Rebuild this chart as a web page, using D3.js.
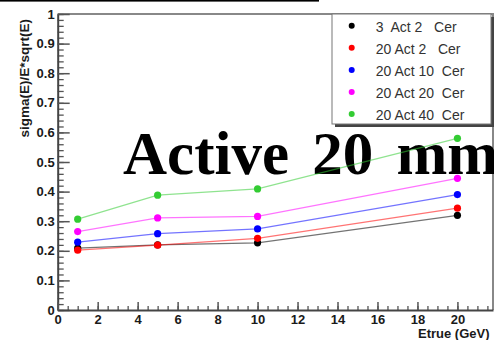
<!DOCTYPE html>
<html>
<head>
<meta charset="utf-8">
<script src="https://cdn.jsdelivr.net/npm/d3@7"></script>
<style>
  body { margin: 0; background: #fff; }
  svg { display: block; }
  .tick text { font-family: "Liberation Sans", Arial, sans-serif; font-weight: bold; font-size: 13px; fill: #1a1a1a; }
</style>
</head>
<body>
<div id="chart"></div>
<script>
// energies (GeV) on the x axis
var energies = [1, 5, 10, 20];

// sigma(E)/E*sqrt(E) for each configuration
var act3_cer2   = [0.209, 0.220, 0.227, 0.320];
var act20_cer2  = [0.202, 0.219, 0.242, 0.344];
var act20_cer10 = [0.229, 0.258, 0.274, 0.390];
var act20_cer20 = [0.265, 0.311, 0.316, 0.445];
var act20_cer40 = [0.307, 0.388, 0.409, 0.580];

var seriesNames = ['3  Act 2   Cer', '20 Act 2   Cer', '20 Act 10  Cer', '20 Act 20  Cer', '20 Act 40  Cer'];
var seriesColors = ['#000000', '#ff0000', '#0000ff', '#ff00ff', '#33cc33'];
var seriesValues = [act3_cer2, act20_cer2, act20_cer10, act20_cer20, act20_cer40];

var xTicks = [0, 2, 4, 6, 8, 10, 12, 14, 16, 18, 20];
var yTicks = [0, 0.1, 0.2, 0.3, 0.4, 0.5, 0.6, 0.7, 0.8, 0.9, 1];

var W = 494, H = 340;
var padL = 57.7, padR = 493, padT = 14, padB = 310;

var svg = d3.select('#chart').append('svg')
    .attr('width', W).attr('height', H);

var x = d3.scaleLinear().domain([0, 21.78]).range([padL, padR]);
var y = d3.scaleLinear().domain([0, 1]).range([padB, padT]);

// bar left over from the slide title
svg.append('rect').attr('x', 0).attr('y', 0).attr('width', 319).attr('height', 1.6).attr('fill', '#000');

// frame top / right
svg.append('path')
    .attr('d', 'M' + padL + ',' + padT + 'H' + padR + 'V' + padB)
    .attr('fill', 'none').attr('stroke', '#888').attr('stroke-width', 2);

// minor ticks
svg.append('g')
    .attr('transform', 'translate(' + padL + ',0)')
    .call(d3.axisLeft(y).tickValues(d3.range(0, 1.001, 0.02)).tickFormat('').tickSizeInner(-6).tickSizeOuter(0))
    .call(function(g) { g.select('.domain').remove(); g.selectAll('line').attr('stroke', '#555').attr('stroke-width', 1.3); });

svg.append('g')
    .attr('transform', 'translate(0,' + padB + ')')
    .call(d3.axisBottom(x).tickValues(d3.range(0, 21.8, 0.5)).tickFormat('').tickSizeInner(-4).tickSizeOuter(0))
    .call(function(g) { g.select('.domain').remove(); g.selectAll('line').attr('stroke', '#555').attr('stroke-width', 1.3); });

// major ticks
svg.append('g')
    .attr('transform', 'translate(' + padL + ',0)')
    .call(d3.axisLeft(y).tickValues(yTicks).tickFormat(function(d) { return d === 0 ? '0' : d3.format('.1~f')(d); })
        .tickSizeInner(-12).tickSizeOuter(0).tickPadding(3))
    .call(function(g) {
        g.select('.domain').attr('stroke', '#444').attr('stroke-width', 2);
        g.selectAll('line').attr('stroke', '#555').attr('stroke-width', 1.5);
    });

svg.append('g')
    .attr('transform', 'translate(0,' + padB + ')')
    .call(d3.axisBottom(x).tickValues(xTicks).tickFormat(d3.format('d'))
        .tickSizeInner(-8).tickSizeOuter(0).tickPadding(5))
    .call(function(g) {
        g.select('.domain').attr('stroke', '#444').attr('stroke-width', 2);
        g.selectAll('line').attr('stroke', '#555').attr('stroke-width', 1.5);
    });

// axis titles
svg.append('text')
    .attr('transform', 'translate(29,19) rotate(-90)')
    .attr('text-anchor', 'end')
    .style('font-family', '"Liberation Sans", Arial, sans-serif')
    .style('font-weight', 'bold').style('font-size', '13.5px').style('fill', '#1a1a1a')
    .text('sigma(E)/E*sqrt(E)');

svg.append('text')
    .attr('x', 418).attr('y', 338)
    .style('font-family', '"Liberation Sans", Arial, sans-serif')
    .style('font-weight', 'bold').style('font-size', '13px').style('fill', '#1a1a1a')
    .text('Etrue (GeV)');

// big overlay label
svg.append('text')
    .attr('x', 123).attr('y', 174)
    .style('font-family', '"Liberation Serif", "Times New Roman", serif')
    .style('font-weight', 'bold').style('font-size', '61px').style('word-spacing', '8px')
    .style('fill', '#000')
    .text('Active 20 mm');

// legend
var legend = svg.append('g');
legend.append('rect').attr('x', 335).attr('y', 17).attr('width', 159).attr('height', 110).attr('fill', '#444');
legend.append('rect').attr('x', 332).attr('y', 14).attr('width', 159).attr('height', 110)
    .attr('fill', '#fff').attr('stroke', '#777').attr('stroke-width', 1);

var rows = legend.selectAll('g.row').data(seriesNames).enter().append('g')
    .attr('transform', function(d, i) { return 'translate(0,' + (25.7 + i * 22.1) + ')'; });
rows.append('circle').attr('cx', 351.7).attr('cy', 0).attr('r', 3)
    .attr('fill', function(d, i) { return seriesColors[i]; });
rows.append('text').attr('x', 375.7).attr('y', 1).attr('dy', '0.35em')
    .attr('xml:space', 'preserve')
    .style('white-space', 'pre')
    .style('font-family', '"Liberation Sans", Arial, sans-serif')
    .style('font-size', '14px').style('fill', '#333')
    .text(function(d) { return d; });

// series
var line = d3.line()
    .x(function(d, i) { return x(energies[i]); })
    .y(function(d) { return y(d); });

var series = svg.append('g').selectAll('g.series').data(seriesValues).enter().append('g');
series.append('path')
    .attr('d', function(d) { return line(d); })
    .attr('fill', 'none')
    .attr('stroke', function(d, i) { return seriesColors[i]; })
    .attr('stroke-opacity', 0.55)
    .attr('stroke-width', 1.3);
series.each(function(vals, si) {
    d3.select(this).selectAll('circle').data(vals).enter().append('circle')
        .attr('cx', function(d, i) { return x(energies[i]); })
        .attr('cy', function(d) { return y(d); })
        .attr('r', 3.6)
        .attr('fill', seriesColors[si]);
});
</script>
</body>
</html>
